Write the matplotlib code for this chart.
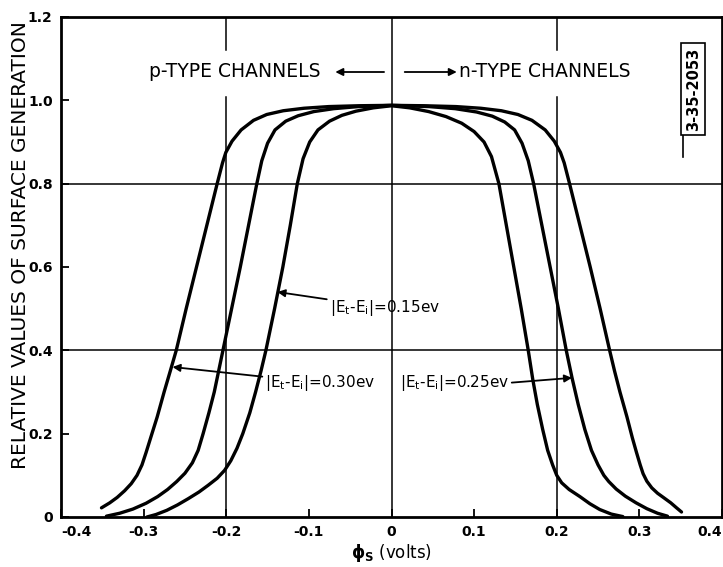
import numpy as np
import matplotlib
matplotlib.use("Agg")
import matplotlib.pyplot as plt

# Surface generation curves, read point by point (phi_s in volts, relative value),
# running from the p-type tail over the plateau down to the n-type tail
x_030 = [-0.351, -0.341, -0.332, -0.323, -0.315, -0.308, -0.302, -0.297, -0.2915, -0.2836,
         -0.2752, -0.2678, -0.2605, -0.2485, -0.236, -0.2235, -0.211, -0.2045, -0.2005, -0.193,
         -0.182, -0.167, -0.151, -0.131, -0.106, -0.076, -0.040, 0.000,
         0.040, 0.078, 0.108, 0.133, 0.153, 0.170, 0.186, 0.197, 0.2045, 0.209,
         0.2155, 0.228, 0.2405, 0.2525, 0.264, 0.270, 0.2765, 0.285, 0.2915, 0.2965,
         0.301, 0.3045, 0.309, 0.315, 0.322, 0.329, 0.338, 0.345, 0.351]
y_030 = [0.022, 0.034, 0.047, 0.063, 0.080, 0.100, 0.125, 0.155, 0.190, 0.240,
         0.300, 0.350, 0.400, 0.500, 0.600, 0.700, 0.800, 0.850, 0.875, 0.902,
         0.929, 0.952, 0.966, 0.975, 0.981, 0.985, 0.987, 0.988,
         0.987, 0.985, 0.981, 0.975, 0.966, 0.952, 0.929, 0.902, 0.875, 0.850,
         0.800, 0.700, 0.600, 0.500, 0.400, 0.350, 0.300, 0.240, 0.190, 0.155,
         0.125, 0.104, 0.086, 0.070, 0.057, 0.047, 0.034, 0.022, 0.012]

x_025 = [-0.345, -0.329, -0.313, -0.297, -0.283, -0.271, -0.260, -0.250, -0.241, -0.234,
         -0.228, -0.221, -0.2145, -0.204, -0.1935, -0.183, -0.173, -0.163, -0.157, -0.150,
         -0.141, -0.128, -0.113, -0.094, -0.070, -0.040, 0.000,
         0.045, 0.077, 0.103, 0.122, 0.137, 0.149, 0.158, 0.1655, 0.172, 0.182,
         0.192, 0.202, 0.2115, 0.2185, 0.226, 0.234, 0.242, 0.250, 0.257, 0.263,
         0.272, 0.283, 0.296, 0.309, 0.322, 0.334]
y_025 = [0.002, 0.009, 0.019, 0.033, 0.049, 0.066, 0.085, 0.105, 0.130, 0.160,
         0.200, 0.250, 0.300, 0.400, 0.500, 0.600, 0.700, 0.800, 0.855, 0.897,
         0.929, 0.950, 0.963, 0.973, 0.980, 0.985, 0.988,
         0.985, 0.980, 0.972, 0.962, 0.948, 0.929, 0.897, 0.855, 0.800, 0.700,
         0.600, 0.500, 0.400, 0.334, 0.270, 0.210, 0.160, 0.125, 0.100, 0.085,
         0.067, 0.050, 0.034, 0.020, 0.009, 0.002]

x_015 = [-0.296, -0.285, -0.272, -0.259, -0.246, -0.233, -0.222, -0.211, -0.202, -0.1945,
         -0.187, -0.180, -0.1715, -0.1645, -0.158, -0.152, -0.1415, -0.1315, -0.1225, -0.114,
         -0.107, -0.099, -0.089, -0.075, -0.060, -0.043, -0.022, 0.000,
         0.022, 0.045, 0.066, 0.085, 0.100, 0.112, 0.121, 0.130, 0.139, 0.148,
         0.157, 0.1655, 0.171, 0.1765, 0.183, 0.189, 0.195, 0.200, 0.206, 0.215,
         0.228, 0.240, 0.252, 0.266, 0.280]
y_015 = [0.000, 0.006, 0.016, 0.029, 0.044, 0.060, 0.076, 0.093, 0.112, 0.135,
         0.165, 0.200, 0.250, 0.300, 0.350, 0.400, 0.500, 0.600, 0.700, 0.800,
         0.860, 0.900, 0.929, 0.950, 0.964, 0.974, 0.982, 0.987,
         0.982, 0.973, 0.961, 0.945, 0.925, 0.900, 0.865, 0.800, 0.700, 0.600,
         0.500, 0.400, 0.330, 0.270, 0.210, 0.160, 0.125, 0.100, 0.082, 0.066,
         0.049, 0.032, 0.018, 0.007, 0.001]

x_ticks = [-0.4, -0.3, -0.2, -0.1, 0.0, 0.1, 0.2, 0.3, 0.4]
x_ticklabels = ["-0.4", "-0.3", "-0.2", "-0.1", "0", "0.1", "0.2", "0.3", "0.4"]
y_ticks = [0.0, 0.2, 0.4, 0.6, 0.8, 1.0, 1.2]
y_ticklabels = ["0", "0.2", "0.4", "0.6", "0.8", "1.0", "1.2"]

plt.rcParams["font.family"] = ["DejaVu Sans"]

fig = plt.figure(figsize=(7.23, 5.67), dpi=100)
ax = fig.add_axes([61 / 723, 50 / 567, 661 / 723, 500 / 567])
ax.set_xlim(-0.4, 0.4)
ax.set_ylim(0.0, 1.2)

# grid lines drawn by hand: the outer verticals break around the channel labels
ax.axhline(0.4, color="black", lw=1.1, zorder=1)
ax.axhline(0.8, color="black", lw=1.1, zorder=1)
ax.axvline(0.0, color="black", lw=1.1, zorder=1)
for gx in (-0.2, 0.2):
    ax.plot([gx, gx], [0.0, 1.008], color="black", lw=1.1, zorder=1)
    ax.plot([gx, gx], [1.121, 1.2], color="black", lw=1.1, zorder=1)

for xs, ys in ((x_030, y_030), (x_025, y_025), (x_015, y_015)):
    ax.plot(xs, ys, color="black", lw=2.4, solid_capstyle="round",
            solid_joinstyle="round", zorder=3)

ax.set_xticks(x_ticks)
ax.set_xticklabels(x_ticklabels, fontweight="bold")
ax.set_yticks(y_ticks)
ax.set_yticklabels(y_ticklabels, fontweight="bold")
ax.get_xticklabels()[0].set_horizontalalignment("left")
ax.get_xticklabels()[-1].set_horizontalalignment("right")
ax.tick_params(direction="in", length=6, width=1.3, labelsize=10, pad=6)
for s in ax.spines.values():
    s.set_linewidth(2.0)

ax.set_ylabel("RELATIVE VALUES OF SURFACE GENERATION", fontsize=14.5)
ax.yaxis.set_label_coords(-0.047, 0.544)
ax.set_xlabel(r"$\mathbf{\phi}_{\mathbf{S}}$ (volts)", fontsize=12, labelpad=2)

# channel type headings
ax.text(-0.294, 1.068, "p-TYPE CHANNELS", fontsize=13.5, ha="left", va="center")
ax.text(0.082, 1.068, "n-TYPE CHANNELS", fontsize=13.5, ha="left", va="center")
arrow = dict(arrowstyle="-|>", color="black", lw=1.3, mutation_scale=11,
             shrinkA=0, shrinkB=0)
ax.annotate("", xy=(-0.068, 1.068), xytext=(-0.009, 1.068), arrowprops=arrow)
ax.annotate("", xy=(0.079, 1.068), xytext=(0.016, 1.068), arrowprops=arrow)

# curve labels
lbl = r"$|\mathrm{E_t}$-$\mathrm{E_i}|$=%sev"
ax.annotate(lbl % "0.15", xy=(-0.138, 0.54), xytext=(-0.075, 0.502),
            fontsize=11, ha="left", va="center", arrowprops=arrow)
ax.annotate(lbl % "0.30", xy=(-0.265, 0.36), xytext=(-0.153, 0.322),
            fontsize=11, ha="left", va="center", arrowprops=arrow)
ax.annotate(lbl % "0.25", xy=(0.2185, 0.334), xytext=(0.010, 0.322),
            fontsize=11, ha="left", va="center",
            arrowprops=dict(arrow, relpos=(1.0, 0.5)))

# drawing number box at the upper right
ax.text(0.365, 1.026, "3-35-2053", rotation=90, fontsize=10.5, fontweight="bold",
        ha="center", va="center",
        bbox=dict(boxstyle="square,pad=0.3", fc="white", ec="black", lw=1.2))
ax.plot([0.3525, 0.3525], [0.98, 0.864], color="black", lw=1.2)

fig.savefig("out.png", dpi=100)
